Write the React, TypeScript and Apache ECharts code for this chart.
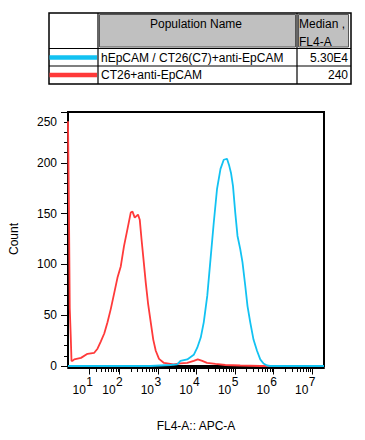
import React, { useEffect, useRef } from "react";
import * as echarts from "echarts";

const FONT = "'Liberation Sans', Arial, Helvetica, sans-serif";
const BLUE = "#12c2f2";
const RED = "#ff3a3a";

// Table (legend) content
const populationNames = ["hEpCAM / CT26(C7)+anti-EpCAM", "CT26+anti-EpCAM"];
const medianValues = ["5.30E4", "240"];
const populationColors = [BLUE, RED];

// X axis: biexponential display, 1024 channels
const decadeExponents = [1, 2, 3, 4, 5, 6, 7];
const minorDecades = [1, 2, 3, 4, 5, 6];
const minorMultipliers = [2, 3, 4, 5, 6, 7, 8, 9];
const CH_MAX = 1024;
const COFACTOR = 22;
const U_MIN = -0.3639;
const U_MAX = 6.268;

// Histogram: red = CT26+anti-EpCAM
const redChannel = [0, 4, 7, 11, 14, 18, 25, 52, 78, 105, 118, 131, 145, 158, 171, 185, 198, 211, 224, 238, 251, 258, 267, 280, 287, 294, 302, 311, 320, 331, 341, 351, 364, 384, 422, 450, 477, 503, 519, 537, 556, 590, 629, 689, 769, 1024];
const redCount = [241, 148, 57, 29, 5, 5, 6.5, 8, 12, 13, 17, 24, 32, 43, 56, 72, 87, 98, 118, 135, 151, 152, 146, 149, 144, 125, 105, 82, 62, 43, 26, 15, 7, 3, 1.5, 2.5, 3, 5, 6.5, 5, 3, 2, 1, 0.5, 0, 0];

// Histogram: blue = hEpCAM / CT26(C7)+anti-EpCAM
const blueChannel = [0, 330, 410, 437, 450, 477, 503, 517, 531, 543, 557, 570, 583, 596, 610, 623, 636, 645, 652, 660, 669, 678, 689, 698, 709, 718, 729, 742, 756, 769, 782, 796, 809, 1024];
const blueCount = [0, 0, 1, 1.5, 5, 6.5, 11, 18, 28, 43, 69, 105, 141, 174, 194, 203, 204, 197, 190, 177, 151, 128, 115, 102, 79, 59, 43, 26, 15, 6.5, 2.5, 0.5, 0, 0];

function toChannel(v: number): number {
  const u = Math.asinh(v / COFACTOR) / Math.LN10;
  return ((u - U_MIN) / (U_MAX - U_MIN)) * CH_MAX;
}

const majorTicks = decadeExponents.map((e) => toChannel(Math.pow(10, e)));
const minorTicks: number[] = [];
minorDecades.forEach((n) =>
  minorMultipliers.forEach((k) => minorTicks.push(toChannel(k * Math.pow(10, n))))
);

export default function App() {
  const ref = useRef<HTMLDivElement>(null);

  useEffect(() => {
    document.body.style.margin = "0";
    if (!ref.current) return;
    const chart = echarts.init(ref.current, undefined, { renderer: "svg" });

    const txt = (text: string, x: number, y: number, align = "left") => ({
      type: "text",
      x,
      y,
      style: {
        text,
        fill: "#000",
        font: `12px ${FONT}`,
        align,
        verticalAlign: "middle",
      },
      z: 10,
    });

    const tableGraphics: any[] = [
      { type: "rect", shape: { x: 49, y: 13, width: 302, height: 71 }, style: { fill: "#fff", stroke: "#000", lineWidth: 1.5 }, z: 5 },
      { type: "rect", shape: { x: 99.5, y: 14.5, width: 196, height: 32.5 }, style: { fill: "#c0c0c0", stroke: "#555", lineWidth: 1 }, z: 6 },
      { type: "rect", shape: { x: 298.5, y: 14.5, width: 50, height: 32.5 }, style: { fill: "#c0c0c0", stroke: "#555", lineWidth: 1 }, z: 6 },
      { type: "line", shape: { x1: 98, y1: 13, x2: 98, y2: 84 }, style: { stroke: "#000", lineWidth: 1.2 }, z: 7 },
      { type: "line", shape: { x1: 297, y1: 13, x2: 297, y2: 84 }, style: { stroke: "#000", lineWidth: 1.2 }, z: 7 },
      { type: "line", shape: { x1: 49, y1: 48.5, x2: 351, y2: 48.5 }, style: { stroke: "#000", lineWidth: 1.2 }, z: 7 },
      { type: "line", shape: { x1: 49, y1: 66, x2: 351, y2: 66 }, style: { stroke: "#000", lineWidth: 1.2 }, z: 7 },
      txt("Population Name", 196, 24, "center"),
      txt("Median ,", 299, 24),
      txt("FL4-A", 299, 42),
    ];
    populationNames.forEach((name, i) => {
      const cy = 57.5 + i * 17.5;
      tableGraphics.push({
        type: "rect",
        shape: { x: 49.5, y: cy - 2.2, width: 47.5, height: 4.4 },
        style: { fill: populationColors[i] },
        z: 8,
      });
      tableGraphics.push(txt(name, 101, cy));
      tableGraphics.push(txt(medianValues[i], 348, cy, "right"));
    });

    const AXIS_Y_SHIFT = 1.5;

    const option: any = {
      animation: false,
      backgroundColor: "#fff",
      textStyle: { fontFamily: FONT },
      grid: {
        left: 67,
        top: 112,
        width: 257,
        height: 254,
        show: true,
        borderColor: "#000",
        borderWidth: 2,
        backgroundColor: "transparent",
        containLabel: false,
      },
      xAxis: {
        type: "value",
        min: 0,
        max: CH_MAX,
        position: "bottom",
        offset: AXIS_Y_SHIFT,
        axisLine: { show: true, onZero: false, lineStyle: { color: "#000", width: 2 } },
        axisTick: { show: false },
        axisLabel: { show: false },
        splitLine: { show: false },
        name: "FL4-A:: APC-A",
        nameLocation: "middle",
        nameGap: 52,
        nameTextStyle: { fontSize: 12, color: "#000", fontFamily: FONT },
      },
      yAxis: {
        type: "value",
        min: 0,
        max: 250,
        interval: 50,
        axisLine: { show: true, lineStyle: { color: "#000", width: 2 } },
        axisTick: { show: true, length: 7, lineStyle: { color: "#000", width: 1 } },
        minorTick: { show: true, splitNumber: 5, length: 4, lineStyle: { color: "#000", width: 1 } },
        splitLine: { show: false },
        minorSplitLine: { show: false },
        axisLabel: {
          fontSize: 12,
          color: "#000",
          fontFamily: FONT,
          margin: 11,
          formatter: (v: number) => (v === 250 ? "{t|250}" : String(v)),
          rich: { t: { fontSize: 12, fontFamily: FONT, color: "#000", padding: [20, 0, 0, 0] } },
        },
        name: "Count",
        nameLocation: "middle",
        nameGap: 48,
        nameRotate: 90,
        nameTextStyle: { fontSize: 12, color: "#000", fontFamily: FONT },
      },
      series: [
        {
          name: populationNames[1],
          type: "line",
          data: redChannel.map((c, i) => [c, redCount[i]]),
          showSymbol: false,
          symbol: "none",
          lineStyle: { color: RED, width: 1.8 },
          itemStyle: { color: RED },
          silent: true,
          z: 2,
        },
        {
          name: populationNames[0],
          type: "line",
          data: blueChannel.map((c, i) => [c, blueCount[i]]),
          showSymbol: false,
          symbol: "none",
          lineStyle: { color: BLUE, width: 1.8 },
          itemStyle: { color: BLUE },
          silent: true,
          z: 3,
        },
        {
          // minor x ticks
          name: "minorTicks",
          type: "custom",
          clip: false,
          silent: true,
          z: 5,
          data: minorTicks.map((v) => [v, 0]),
          encode: { x: 0, y: 1 },
          renderItem: (params: any, api: any) => {
            const p = api.coord([api.value(0), 0]);
            const x = Math.round(p[0]) + 0.5;
            const y0 = p[1] + AXIS_Y_SHIFT + 1;
            return {
              type: "line",
              shape: { x1: x, y1: y0, x2: x, y2: y0 + 3.5 },
              style: { stroke: "#000", lineWidth: 1 },
            };
          },
        },
        {
          // major x ticks with 10^n labels
          name: "majorTicks",
          type: "custom",
          clip: false,
          silent: true,
          z: 5,
          data: majorTicks.map((v, i) => [v, 0, decadeExponents[i]]),
          encode: { x: 0, y: 1 },
          renderItem: (params: any, api: any) => {
            const p = api.coord([api.value(0), 0]);
            const e = api.value(2);
            const x = Math.round(p[0]) + 0.5;
            const y0 = p[1] + AXIS_Y_SHIFT + 1;
            return {
              type: "group",
              children: [
                {
                  type: "line",
                  shape: { x1: x, y1: y0, x2: x, y2: y0 + 6 },
                  style: { stroke: "#000", lineWidth: 1 },
                },
                {
                  type: "text",
                  x: p[0] - 3.6,
                  y: 390,
                  style: { text: "10", font: `12px ${FONT}`, fill: "#000", align: "right", verticalAlign: "middle" },
                },
                {
                  type: "text",
                  x: p[0] - 3.2,
                  y: 381.5,
                  style: { text: String(e), font: `12px ${FONT}`, fill: "#000", align: "left", verticalAlign: "middle" },
                },
              ],
            };
          },
        },
      ],
      graphic: tableGraphics,
    };

    chart.setOption(option);
    return () => chart.dispose();
  }, []);

  return (
    <div
      ref={ref}
      style={{ width: 365, height: 440, position: "absolute", left: 0, top: 0, background: "#fff" }}
    />
  );
}
